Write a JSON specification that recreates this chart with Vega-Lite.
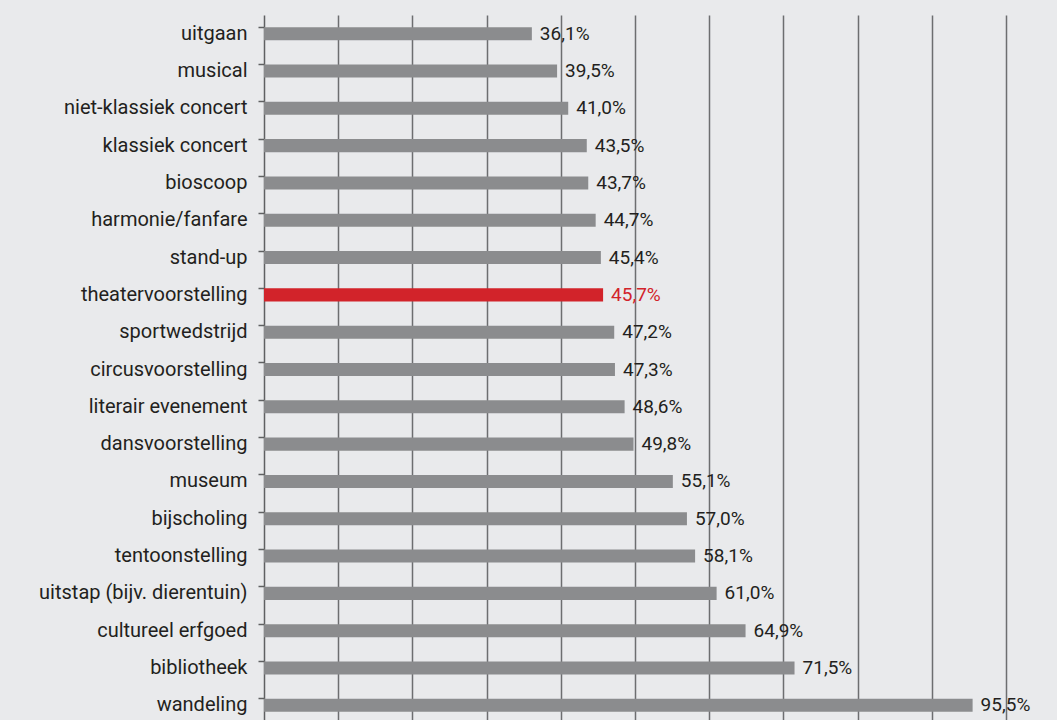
{
  "$schema": "https://vega.github.io/schema/vega-lite/v6.json",
  "autosize": "none",
  "padding": {"left": 264, "top": 15, "right": 51, "bottom": 0},
  "width": 742,
  "height": 709,
  "background": "#e9eaec",
  "config": {
    "view": {"stroke": null},
    "font": "Roboto",
    "locale": {"number": {"decimal": ",", "thousands": ".", "grouping": [3], "currency": ["€", ""]}}
  },
  "data": {"values": [
    {"activiteit": "uitgaan", "aandeel": 0.361, "groep": "overig"},
    {"activiteit": "musical", "aandeel": 0.395, "groep": "overig"},
    {"activiteit": "niet-klassiek concert", "aandeel": 0.410, "groep": "overig"},
    {"activiteit": "klassiek concert", "aandeel": 0.435, "groep": "overig"},
    {"activiteit": "bioscoop", "aandeel": 0.437, "groep": "overig"},
    {"activiteit": "harmonie/fanfare", "aandeel": 0.447, "groep": "overig"},
    {"activiteit": "stand-up", "aandeel": 0.454, "groep": "overig"},
    {"activiteit": "theatervoorstelling", "aandeel": 0.457, "groep": "theater"},
    {"activiteit": "sportwedstrijd", "aandeel": 0.472, "groep": "overig"},
    {"activiteit": "circusvoorstelling", "aandeel": 0.473, "groep": "overig"},
    {"activiteit": "literair evenement", "aandeel": 0.486, "groep": "overig"},
    {"activiteit": "dansvoorstelling", "aandeel": 0.498, "groep": "overig"},
    {"activiteit": "museum", "aandeel": 0.551, "groep": "overig"},
    {"activiteit": "bijscholing", "aandeel": 0.570, "groep": "overig"},
    {"activiteit": "tentoonstelling", "aandeel": 0.581, "groep": "overig"},
    {"activiteit": "uitstap (bijv. dierentuin)", "aandeel": 0.610, "groep": "overig"},
    {"activiteit": "cultureel erfgoed", "aandeel": 0.649, "groep": "overig"},
    {"activiteit": "bibliotheek", "aandeel": 0.715, "groep": "overig"},
    {"activiteit": "wandeling", "aandeel": 0.955, "groep": "overig"}
  ]},
  "encoding": {
    "y": {
      "field": "activiteit", "type": "nominal", "sort": null,
      "scale": {"paddingInner": 0.65, "paddingOuter": 0.325},
      "axis": {
        "title": null, "bandPosition": 0, "domainColor": "#5f6062", "domainWidth": 1.5,
        "tickColor": "#5f6062", "tickSize": 6, "tickWidth": 1.5, "labelPadding": 11,
        "labelFontSize": 20, "labelColor": "#231f20", "labelFont": "Roboto", "labelFontWeight": 400,
        "labelLimit": 0
      }
    },
    "x": {
      "field": "aandeel", "type": "quantitative",
      "scale": {"domain": [0, 1], "nice": false},
      "axis": {
        "title": null, "labels": false, "ticks": false, "domain": false,
        "values": [0.1, 0.2, 0.3, 0.4, 0.5, 0.6, 0.7, 0.8, 0.9, 1.0],
        "grid": true, "gridColor": "#6d6e70", "gridWidth": 1.5
      }
    },
    "color": {
      "field": "groep", "type": "nominal",
      "scale": {"domain": ["overig", "theater"], "range": ["#8b8c8e", "#d2232a"]},
      "legend": null
    }
  },
  "layer": [
    {"mark": {"type": "bar"}},
    {
      "mark": {"type": "text", "align": "left", "baseline": "middle", "dx": 8, "fontSize": 19, "font": "Roboto", "fontWeight": 400},
      "encoding": {
        "text": {"field": "aandeel", "type": "quantitative", "format": ".1%"},
        "color": {
          "field": "groep", "type": "nominal",
          "scale": {"domain": ["overig", "theater"], "range": ["#231f20", "#d2232a"]},
          "legend": null
        }
      }
    }
  ],
  "resolve": {"scale": {"color": "independent"}}
}
